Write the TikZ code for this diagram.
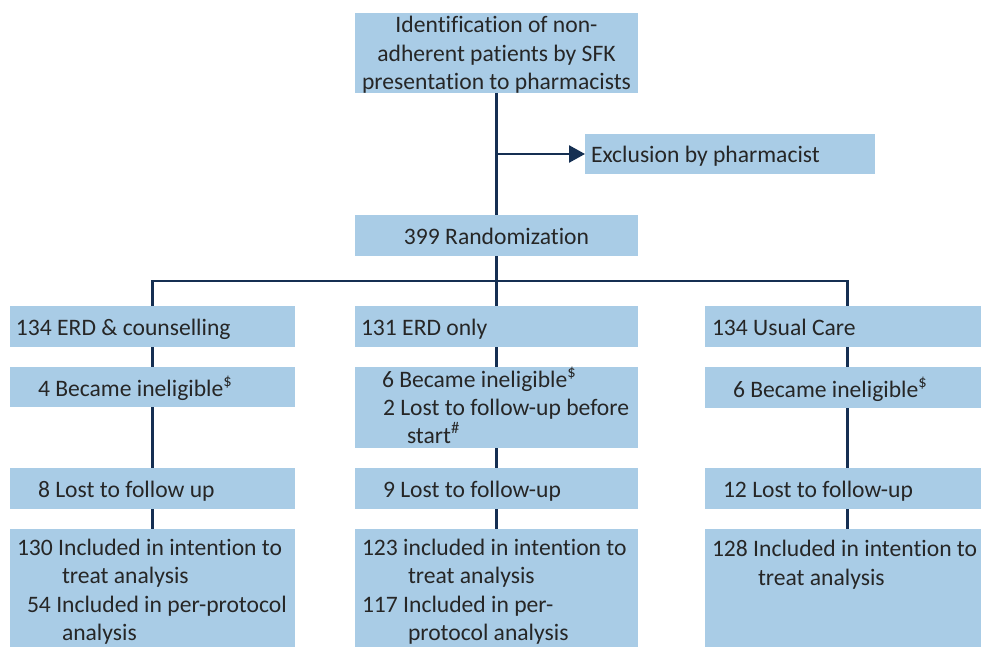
\documentclass[tikz,border=0pt]{standalone}
\usepackage{fontspec}
\setmainfont{Carlito}[Ligatures={NoCommon}]
\usetikzlibrary{arrows.meta}
\definecolor{boxfill}{HTML}{A9CCE6}
\definecolor{linec}{HTML}{152F52}
\definecolor{txt}{HTML}{262626}
\begin{document}
\begin{tikzpicture}[x=1pt,y=-1pt,
  box/.style={fill=boxfill, draw=none, inner sep=0pt, outer sep=0pt, rectangle},
  lbl/.style={anchor=base west, inner sep=0pt, outer sep=0pt, text=txt, font=\fontsize{23.6}{28.5}\selectfont},
  clbl/.style={lbl, anchor=base},
  conn/.style={draw=linec, line width=2.4pt},
  arr/.style={conn, -{Triangle[length=16pt,width=17pt]}}]
\clip (0,0) rectangle (981,647);
% boxes
\node[box, minimum width=283pt, minimum height=80pt] (top) at (496.5,53) {};
\node[box, minimum width=290pt, minimum height=40pt] (excl) at (730,154) {};
\node[box, minimum width=283pt, minimum height=41pt] (rand) at (496.5,235.5) {};
\node[box, minimum width=285pt, minimum height=41pt] (L1) at (152.5,326.5) {};
\node[box, minimum width=285pt, minimum height=40pt] (L2) at (152.5,387) {};
\node[box, minimum width=285pt, minimum height=41pt] (L3) at (152.5,488.5) {};
\node[box, minimum width=285pt, minimum height=118pt] (L4) at (152.5,588) {};
\node[box, minimum width=283pt, minimum height=41pt] (M1) at (496.5,326.5) {};
\node[box, minimum width=283pt, minimum height=81pt] (M2) at (496.5,407.5) {};
\node[box, minimum width=283pt, minimum height=41pt] (M3) at (496.5,488.5) {};
\node[box, minimum width=283pt, minimum height=118pt] (M4) at (496.5,588) {};
\node[box, minimum width=285pt, minimum height=41pt] (R1) at (847.5,326.5) {};
\node[box, minimum width=285pt, minimum height=41pt] (R2) at (847.5,387.5) {};
\node[box, minimum width=285pt, minimum height=41pt] (R3) at (847.5,488.5) {};
\node[box, minimum width=285pt, minimum height=118pt] (R4) at (847.5,588) {};
% connectors
\coordinate (exb) at (top.south |- excl.west);
\coordinate (branch) at (496.5,281);
\draw[conn] (top.south) -- (rand.north);
\draw[arr] (exb) -- (excl.west);
\draw[conn] (rand.south) -- (M1.north);
\draw[conn] (L1.north) |- (branch) -| (R1.north);
\draw[conn] (L1) -- (L2); \draw[conn] (L2) -- (L3); \draw[conn] (L3) -- (L4);
\draw[conn] (M1) -- (M2); \draw[conn] (M2) -- (M3); \draw[conn] (M3) -- (M4);
\draw[conn] (R1) -- (R2); \draw[conn] (R2) -- (R3); \draw[conn] (R3) -- (R4);
% texts
\node[clbl] (t1) at (496.5,33) {Identification of non-};
\node[clbl] (t2) at (496.5,62) {adherent patients by SFK};
\node[clbl] (t3) at (496.5,90) {presentation to pharmacists};
\node[lbl] (te) at (591,163) {Exclusion by pharmacist};
\node[clbl] (tr) at (496.5,244) {399 Randomization};
\node[lbl] (tl1) at (16,335) {134 ERD \& counselling};
\node[lbl] (tl2) at (38,396) {4 Became ineligible\textsuperscript{\$}};
\node[lbl] (tl3) at (38,497) {8 Lost to follow up};
\node[lbl] (tl4a) at (17,555) {130 Included in intention to};
\node[lbl] (tl4b) at (62,583) {treat analysis};
\node[lbl] (tl4c) at (27,612) {54 Included in per-protocol};
\node[lbl] (tl4d) at (62,640) {analysis};
\node[lbl] (tm1) at (361,335) {131 ERD only};
\node[lbl] (tm2a) at (382,387) {6 Became ineligible\textsuperscript{\$}};
\node[lbl] (tm2b) at (383,415) {2 Lost to follow-up before};
\node[lbl] (tm2c) at (407,443) {start\textsuperscript{\#}};
\node[lbl] (tm3) at (383,497) {9 Lost to follow-up};
\node[lbl] (tm4a) at (362,555) {123 included in intention to};
\node[lbl] (tm4b) at (408,583) {treat analysis};
\node[lbl] (tm4c) at (362,612) {117 Included in per-};
\node[lbl] (tm4d) at (408,640) {protocol analysis};
\node[lbl] (tr1) at (712,335) {134 Usual Care};
\node[lbl] (tr2) at (733,397) {6 Became ineligible\textsuperscript{\$}};
\node[lbl] (tr3) at (723,497) {12 Lost to follow-up};
\node[lbl] (tr4a) at (712,556) {128 Included in intention to};
\node[lbl] (tr4b) at (758,585) {treat analysis};
\end{tikzpicture}
\end{document}
